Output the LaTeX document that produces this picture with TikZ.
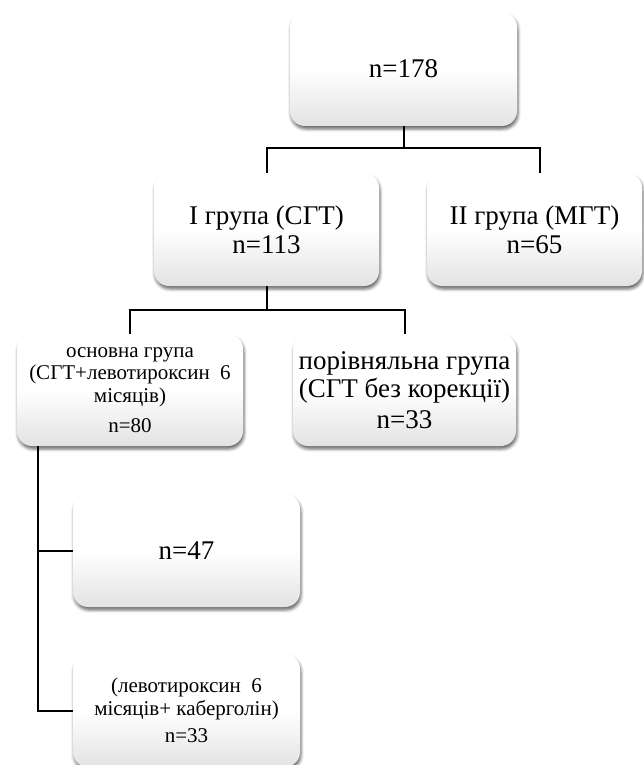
\documentclass[tikz,border=0pt]{standalone}
\usepackage{fontspec}
\setmainfont{Liberation Serif}
\usetikzlibrary{shadows.blur}
\tikzset{
  box/.style={rounded corners=15pt, top color=white, bottom color=black!11,
    middle color=white, shading angle=0,
    blur shadow={shadow xshift=1pt, shadow yshift=-3pt, shadow blur radius=3pt, shadow opacity=60},
    align=center, inner sep=1pt, anchor=center},
  big/.style={font=\fontsize{27}{29}\selectfont},
  small/.style={font=\fontsize{21}{22.5}\selectfont},
  conn/.style={draw=black, line width=2pt}
}
\begin{document}
\begin{tikzpicture}[x=1pt,y=-1pt]
\useasboundingbox (0,0) rectangle (644,765);
\node[box,big,minimum width=227pt,minimum height=114pt] (top) at (403.5,69) {n=178};
\node[box,big,minimum width=225pt,minimum height=113pt] (g1) at (266.5,229.5) {I група (СГТ)\\n=113};
\node[box,big,minimum width=215pt,minimum height=113pt] (g2) at (534.5,229.5) {II група (МГТ)\\n=65};
\node[box,small,minimum width=226pt,minimum height=112pt] (osn) at (130,390) {основна група\\(СГТ+левотироксин\ \ 6\\місяців)\\[8pt]n=80};
\node[box,big,minimum width=223pt,minimum height=112pt,font=\fontsize{27}{28}\selectfont] (por) at (404.5,390) {порівняльна група\\(СГТ без корекції)\\[3pt]n=33};
\node[box,big,minimum width=227pt,minimum height=113pt] (n47) at (186.5,550.5) {n=47};
\node[box,small,minimum width=227pt,minimum height=113pt,font=\fontsize{21}{23}\selectfont] (bot) at (186.5,710.5) {(левотироксин\ \ 6\\місяців+ каберголін)\\[4pt]n=33};
\coordinate (h1) at (g1.north |- 0,148);
\coordinate (h1r) at (540,148);
\coordinate (h2) at (g1.south |- 0,310);
\coordinate (trunk) at (38,446);
\draw[conn] (top.south) -- (top.south |- h1);
\draw[conn] (g1.north) -- (h1) -- (h1r) -- (h1r |- g2.north);
\draw[conn] (g1.south) -- (h2);
\draw[conn] (osn.north) |- (h2) -| (por.north);
\draw[conn] (trunk) |- (bot.west);
\draw[conn] (trunk |- n47.west) -- (n47.west);
\end{tikzpicture}
\end{document}
